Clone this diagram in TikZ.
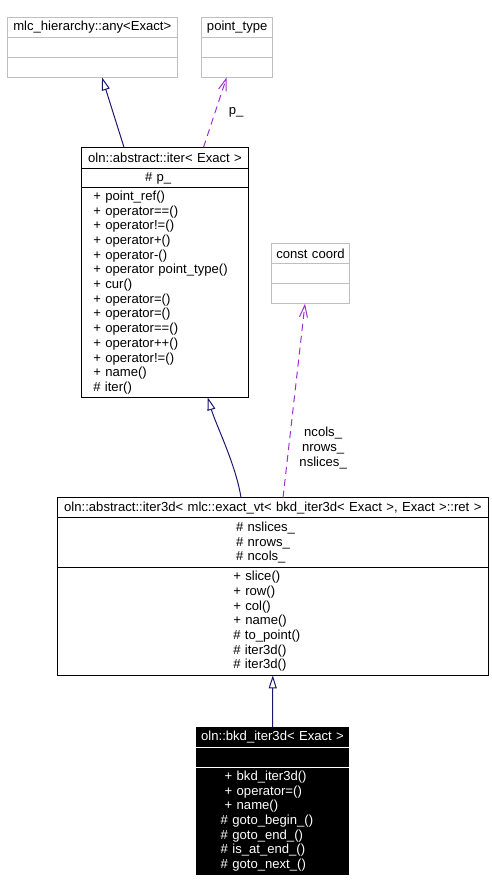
\documentclass[tikz,border=0pt]{standalone}
\usepackage{fontspec}
\setmainfont{Liberation Sans}
\usetikzlibrary{positioning,calc,arrows.meta}

\definecolor{edgeblue}{HTML}{191970}
\definecolor{edgeviolet}{HTML}{9A32CD}
\definecolor{boxgrey}{HTML}{BFBFBF}

\tikzset{
  compart/.style={draw, line width=1pt, inner sep=0pt, outer sep=0pt, minimum height=20pt,
    font=\fontsize{13.1}{14.7}\selectfont},
  clsname/.style={compart, minimum width=#1, text width=#1, align=center},
  members/.style 2 args={compart, text width=#1, inner xsep=#2, align=left},
  inherit/.style={draw=edgeblue, line width=1pt, -{Triangle[open, length=13pt, width=8pt]}},
  uses/.style={draw=edgeviolet, line width=1pt, dash pattern=on 7pt off 5pt,
    -{Straight Barb[length=12pt, width=8pt]}},
  lbl/.style={inner sep=0pt, font=\fontsize{13.1}{14.7}\selectfont}
}

\begin{document}
\begin{tikzpicture}[x=1pt, y=-1pt]
	\useasboundingbox (0,0) rectangle (492,892);
	% outside classes
	\node[clsname=170pt, draw=boxgrey, anchor=north west] (anyT) at (7.3,17.3) {mlc\_hierarchy::any<Exact>};
	\node[compart, draw=boxgrey, minimum width=170pt, below=0pt of anyT] (anyA) {};
	\node[compart, draw=boxgrey, minimum width=170pt, below=0pt of anyA] (anyM) {};
	\node[clsname=71pt, draw=boxgrey, anchor=north west] (ptT) at (201.7,17.3) {point\_type};
	\node[compart, draw=boxgrey, minimum width=71pt, below=0pt of ptT] (ptA) {};
	\node[compart, draw=boxgrey, minimum width=71pt, below=0pt of ptA] (ptM) {};
	\node[clsname=77.6pt, draw=boxgrey, anchor=north west] (ccT) at (271.7,243.7) {const coord};
	\node[compart, draw=boxgrey, minimum width=77.6pt, below=0pt of ccT] (ccA) {};
	\node[compart, draw=boxgrey, minimum width=77.6pt, below=0pt of ccA] (ccM) {};
	% oln::abstract::iter
	\node[clsname=166.6pt, minimum height=21pt, anchor=north west] (itT) at (81.7,147.3) {oln::abstract::iter< Exact >};
	\node[members={40pt}{63.3pt}, minimum height=19.4pt, below=0pt of itT] (itA) {\# p\_};
	\node[members={143.4pt}{11.6pt}, minimum height=209.6pt, below=0pt of itA] (itM)
		{+ point\_ref()\\+ operator==()\\+ operator!=()\\+ operator+()\\+ operator-()\\+ operator point\_type()\\+ cur()\\+ operator=()\\+ operator=()\\+ operator==()\\+ operator++()\\+ operator!=()\\+ name()\\\# iter()};
	% oln::abstract::iter3d
	\node[clsname=431pt, anchor=north west] (i3T) at (57.3,497.7) {oln::abstract::iter3d< mlc::exact\_vt< bkd\_iter3d< Exact >, Exact >::ret >};
	\node[members={73.6pt}{178.7pt}, minimum height=50pt, below=0pt of i3T] (i3A) {\# nslices\_\\\# nrows\_\\\# ncols\_};
	\node[members={79pt}{176pt}, minimum height=107.6pt, below=0pt of i3A] (i3M)
		{+ slice()\\+ row()\\+ col()\\+ name()\\\# to\_point()\\\# iter3d()\\\# iter3d()};
	% oln::bkd_iter3d
	\node[clsname=153pt, draw=none, fill=black, text=white, anchor=north west] (bkT) at (196,727) {oln::bkd\_iter3d< Exact >};
	\node[compart, draw=none, fill=black, minimum width=153pt, minimum height=20.3pt, below=0pt of bkT] (bkA) {};
	\node[members={103.6pt}{24.7pt}, draw=none, fill=black, text=white, minimum height=107.7pt, below=0pt of bkA] (bkM)
		{\hspace*{4pt}+ bkd\_iter3d()\\\hspace*{4pt}+ operator=()\\\hspace*{4pt}+ name()\\\# goto\_begin\_()\\\# goto\_end\_()\\\# is\_at\_end\_()\\\# goto\_next\_()};
	\draw[white, line width=1pt] (bkA.north west) -- (bkA.north east);
	\draw[white, line width=1pt] (bkM.north west) -- (bkM.north east);
	% relations
	\draw[inherit] ($(itT.north west)+(42.3,0)$) -- ($(anyM.south west)+(94.7,0)$);
	\draw[uses] ($(itT.north west)+(121.8,0)$) -- node[lbl, xshift=21pt] {p\_} ($(ptM.south west)+(25,0)$);
	\draw[inherit] ($(i3T.north west)+(183.7,0)$) .. controls (236,465) and (216,425) .. ($(itM.south west)+(126,0)$);
	\draw[uses] ($(i3T.north west)+(225.7,0)$) -- node[lbl, pos=.256, xshift=34.5pt, align=center] {ncols\_\\nrows\_\\nslices\_} ($(ccM.south west)+(33.3,0)$);
	\draw[inherit] (bkT.north) -- (i3M.south);
\end{tikzpicture}
\end{document}
